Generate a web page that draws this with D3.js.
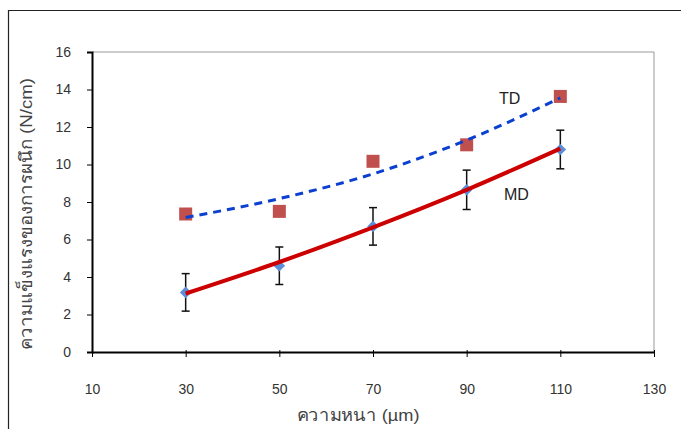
<html>
<script src="https://d3js.org/d3.v7.min.js"></script>
<body style="margin:0;background:#fff">
</body>
<script>
    // thickness (um) vs seal strength (N/cm)
    let thickness = [30, 50, 70, 90, 110];
    let mdValues = [3.18, 4.6, 6.7, 8.65, 10.8];
    let mdErr = [1.0, 1.0, 1.0, 1.05, 1.03];
    let tdValues = [7.36, 7.5, 10.17, 11.05, 13.63];
    // trend lines
    let mdTrend = [3.12, 4.8, 6.65, 8.65, 10.85];
    let tdTrend = [7.17, 8.18, 9.5, 11.3, 13.55];
    let xTicks = [10, 30, 50, 70, 90, 110, 130];
    let yTicks = [0, 2, 4, 6, 8, 10, 12, 14, 16];

    let width = 681;
    let height = 429;
    let font = "'Liberation Sans', Arial, 'Noto Sans', sans-serif";
    let tickFont = "'Liberation Sans Narrow', 'Arial Narrow', 'Liberation Sans', sans-serif";

    let svg = d3.select("body").append("svg")
        .attr("width", width)
        .attr("height", height)
        .style("font-family", font);

    // outer frame (only top and left visible)
    svg.append("path")
        .attr("d", "M8.5,429 V10.5 H681")
        .attr("fill", "none")
        .attr("stroke", "#222")
        .attr("stroke-width", 1.2);

    let x = d3.scaleLinear().domain([10, 130]).range([92, 654]);
    let y = d3.scaleLinear().domain([0, 16]).range([352, 52]);

    // plot box top/right in gray
    svg.append("path")
        .attr("d", `M${x(10)},${y(16)} H${x(130)} V${y(0)}`)
        .attr("fill", "none")
        .attr("stroke", "#999")
        .attr("stroke-width", 1);

    // y axis
    let yAxis = svg.append("g")
        .attr("transform", `translate(${x(10)},0)`)
        .call(d3.axisLeft(y).tickValues(yTicks).tickSize(5).tickPadding(16));
    yAxis.select(".domain").attr("stroke", "#000").attr("stroke-width", 2);
    yAxis.selectAll(".tick line").attr("stroke", "#000");
    yAxis.selectAll("text").attr("font-size", 14).attr("fill", "#333").attr("font-family", tickFont);

    // x axis
    let xAxis = svg.append("g")
        .attr("transform", `translate(0,${y(0)})`)
        .call(d3.axisBottom(x).tickValues(xTicks).tickSize(5).tickPadding(27).tickSizeOuter(0));
    xAxis.select(".domain").attr("stroke", "#000").attr("stroke-width", 2);
    xAxis.selectAll(".tick line").attr("stroke", "#000").attr("y1", -2);
    xAxis.selectAll("text").attr("font-size", 14).attr("fill", "#333").attr("font-family", tickFont);

    // axis titles
    svg.append("text")
        .attr("x", 358)
        .attr("y", 421)
        .attr("text-anchor", "middle")
        .attr("font-size", 17)
        .attr("font-weight", 300)
        .attr("fill", "#444")
        .attr("textLength", 123)
        .attr("lengthAdjust", "spacingAndGlyphs")
        .text("ความหนา (µm)");
    svg.append("text")
        .attr("transform", `translate(32,214) rotate(-90)`)
        .attr("text-anchor", "middle")
        .attr("font-size", 17)
        .attr("font-weight", 300)
        .attr("fill", "#444")
        .attr("textLength", 272)
        .attr("lengthAdjust", "spacingAndGlyphs")
        .text("ความแข็งแรงของการผนึก (N/cm)");

    let line = d3.line()
        .x(d => x(d[0]))
        .y(d => y(d[1]))
        .curve(d3.curveMonotoneX);

    // TD markers (squares)
    svg.selectAll(".td")
        .data(thickness.map((t, i) => [t, tdValues[i]]))
        .join("rect")
        .attr("class", "td")
        .attr("x", d => x(d[0]) - 6.5)
        .attr("y", d => y(d[1]) - 6.5)
        .attr("width", 13)
        .attr("height", 13)
        .attr("fill", "#c0504d");

    // TD trend
    svg.append("path")
        .datum(thickness.map((t, i) => [t, tdTrend[i]]))
        .attr("d", line)
        .attr("fill", "none")
        .attr("stroke", "#0a3fd0")
        .attr("stroke-width", 3)
        .attr("stroke-dasharray", "8,6");

    // MD error bars
    let eb = svg.selectAll(".err")
        .data(thickness.map((t, i) => ({t: t, v: mdValues[i], e: mdErr[i]})))
        .join("g")
        .attr("class", "err")
        .attr("stroke", "#111")
        .attr("stroke-width", 1.5);
    eb.append("line")
        .attr("x1", d => x(d.t)).attr("x2", d => x(d.t))
        .attr("y1", d => y(d.v + d.e)).attr("y2", d => y(d.v - d.e));
    eb.append("line")
        .attr("x1", d => x(d.t) - 4).attr("x2", d => x(d.t) + 4)
        .attr("y1", d => y(d.v + d.e)).attr("y2", d => y(d.v + d.e));
    eb.append("line")
        .attr("x1", d => x(d.t) - 4).attr("x2", d => x(d.t) + 4)
        .attr("y1", d => y(d.v - d.e)).attr("y2", d => y(d.v - d.e));

    // MD markers (diamonds)
    svg.selectAll(".md")
        .data(thickness.map((t, i) => [t, mdValues[i]]))
        .join("path")
        .attr("class", "md")
        .attr("d", d3.symbol().type(d3.symbolDiamond2).size(85))
        .attr("transform", d => `translate(${x(d[0])},${y(d[1])})`)
        .attr("fill", "#5b8fd8");

    // MD trend
    svg.append("path")
        .datum(thickness.map((t, i) => [t, mdTrend[i]]))
        .attr("d", line)
        .attr("fill", "none")
        .attr("stroke", "#cc0000")
        .attr("stroke-width", 4);

    // series labels
    svg.append("text")
        .attr("x", 499).attr("y", 104)
        .attr("font-size", 16).attr("fill", "#222")
        .text("TD");
    svg.append("text")
        .attr("x", 504).attr("y", 200)
        .attr("font-size", 16).attr("fill", "#222")
        .text("MD");
</script>
</html>
